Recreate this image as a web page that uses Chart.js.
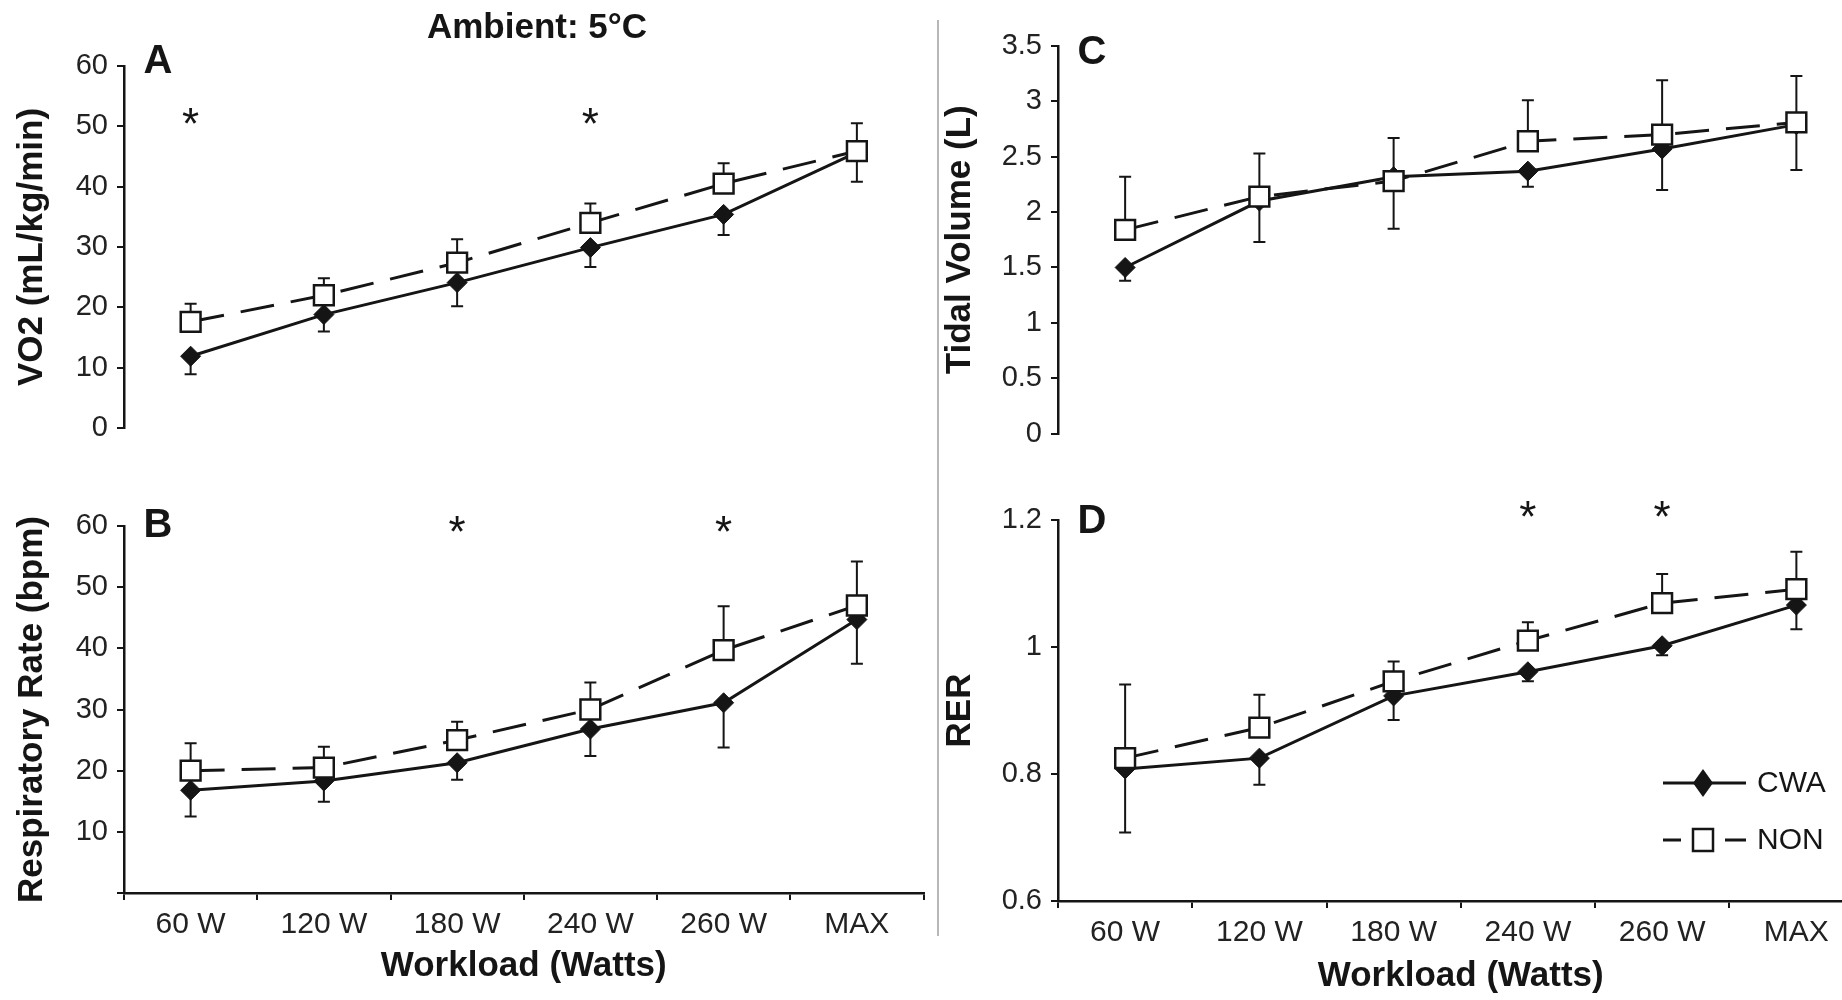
<!DOCTYPE html>
<html>
<head>
<meta charset="utf-8">
<title>Ambient 5°C – CWA vs NON</title>
<script src="https://cdn.jsdelivr.net/npm/chart.js@4.4.0/dist/chart.umd.min.js"></script>
<style>
  html, body { margin: 0; padding: 0; background: #fff; }
  #page { position: relative; width: 1842px; height: 1000px; overflow: hidden; background: #fff; }
  .panel { position: absolute; }
  #divider { position: absolute; left: 937px; top: 20px; width: 2px; height: 916px; background: #b8b8b8; }
</style>
</head>
<body>
<div id="page">
  <div class="panel" style="left:0;top:0;width:940px;height:460px"><canvas id="chart-a"></canvas></div>
  <div class="panel" style="left:0;top:460px;width:940px;height:540px"><canvas id="chart-b"></canvas></div>
  <div class="panel" style="left:940px;top:0;width:940px;height:460px"><canvas id="chart-c"></canvas></div>
  <div class="panel" style="left:940px;top:460px;width:940px;height:540px"><canvas id="chart-d"></canvas></div>
  <div id="divider"></div>
</div>
<script>
// Workload stages (x axis)
const workloads = ['60 W', '120 W', '180 W', '240 W', '260 W', 'MAX'];

// VO2 (mL/kg/min)
const vo2Cwa   = [11.9, 18.8, 24.1, 29.9, 35.4, 45.7];
const vo2CwaSd = [3.0, 2.8, 3.9, 3.2, 3.4, 4.9];
const vo2Non   = [17.6, 22.0, 27.4, 34.0, 40.5, 45.9];
const vo2NonSd = [3.0, 2.8, 3.9, 3.2, 3.4, 4.6];
const vo2Sig   = ['60 W', '240 W'];

// Respiratory rate (bpm)
const rrCwa   = [16.8, 18.3, 21.3, 26.8, 31.1, 44.7];
const rrCwaSd = [4.3, 3.4, 2.8, 4.4, 7.3, 7.2];
const rrNon   = [20.0, 20.5, 25.0, 30.0, 39.7, 47.0];
const rrNonSd = [4.5, 3.4, 3.0, 4.4, 7.2, 7.2];
const rrSig   = ['180 W', '260 W'];

// Tidal volume (L)
const tvCwa   = [1.50, 2.10, 2.32, 2.37, 2.57, 2.79];
const tvCwaSd = [0.12, 0.37, 0.47, 0.14, 0.37, 0.41];
const tvNon   = [1.84, 2.14, 2.28, 2.64, 2.70, 2.81];
const tvNonSd = [0.48, 0.39, 0.39, 0.37, 0.49, 0.42];
const tvSig   = [];

// Respiratory exchange ratio
const rerCwa   = [0.808, 0.825, 0.923, 0.961, 1.002, 1.066];
const rerCwaSd = [0.100, 0.042, 0.038, 0.015, 0.015, 0.038];
const rerNon   = [0.825, 0.873, 0.946, 1.010, 1.069, 1.091];
const rerNonSd = [0.116, 0.052, 0.031, 0.029, 0.046, 0.059];
const rerSig   = ['240 W', '260 W'];

const INK = '#151515';
const FONT = '"Liberation Sans", Arial, Helvetica, sans-serif';

// Error bars: CWA hangs below its point, NON rises above
const errorBars = {
    id: 'errorBars',
    beforeDatasetsDraw(chart) {
        const { ctx, scales: { x, y } } = chart;
        ctx.save();
        ctx.strokeStyle = INK;
        ctx.lineWidth = 2;
        chart.data.datasets.forEach(ds => {
            ds.data.forEach((v, i) => {
                const px = x.getPixelForValue(i);
                const y0 = y.getPixelForValue(v);
                const y1 = y.getPixelForValue(v + ds.errDir * ds.errors[i]);
                ctx.beginPath();
                ctx.moveTo(px, y0);
                ctx.lineTo(px, y1);
                ctx.moveTo(px - 6, y1);
                ctx.lineTo(px + 6, y1);
                ctx.stroke();
            });
        });
        ctx.restore();
    }
};

// Panel letter, significance stars, heading and legend
function panelMarks(p) {
    return {
        id: 'panelMarks',
        afterDatasetsDraw(chart) {
            const { ctx, chartArea, scales: { x, y } } = chart;
            ctx.save();
            ctx.fillStyle = INK;
            ctx.textAlign = 'center';
            ctx.textBaseline = 'middle';

            ctx.font = 'bold 40px ' + FONT;
            ctx.fillText(p.letter, chartArea.left + 34, p.letterY);

            if (p.heading) {
                ctx.font = 'bold 35px ' + FONT;
                ctx.fillText(p.heading, chartArea.left + 413, 28);
            }

            ctx.font = '44px ' + FONT;
            p.sig.forEach(cat => {
                const px = x.getPixelForValue(workloads.indexOf(cat));
                const py = y.getPixelForValue(p.starY);
                ctx.fillText('*', px, py + 10);
            });

            if (p.legend) {
                const lx = chartArea.left + 605;
                const rows = [323, 380];
                ctx.strokeStyle = INK;
                ctx.lineWidth = 3;
                // CWA: solid line with filled diamond
                ctx.beginPath();
                ctx.moveTo(lx, rows[0]);
                ctx.lineTo(lx + 83, rows[0]);
                ctx.stroke();
                ctx.beginPath();
                ctx.moveTo(lx + 40, rows[0] - 14);
                ctx.lineTo(lx + 50, rows[0]);
                ctx.lineTo(lx + 40, rows[0] + 14);
                ctx.lineTo(lx + 30, rows[0]);
                ctx.closePath();
                ctx.fill();
                // NON: dashed line with open square
                ctx.beginPath();
                ctx.moveTo(lx, rows[1]);
                ctx.lineTo(lx + 18, rows[1]);
                ctx.moveTo(lx + 62, rows[1]);
                ctx.lineTo(lx + 83, rows[1]);
                ctx.stroke();
                ctx.lineWidth = 2.5;
                ctx.fillStyle = '#fff';
                ctx.fillRect(lx + 30, rows[1] - 11, 20, 22);
                ctx.strokeRect(lx + 30, rows[1] - 11, 20, 22);
                ctx.fillStyle = INK;
                ctx.textAlign = 'left';
                ctx.font = '30px ' + FONT;
                ctx.fillText('CWA', lx + 94, rows[0] + 1);
                ctx.fillText('NON', lx + 94, rows[1] + 1);
            }
            ctx.restore();
        }
    };
}

function makePanel(id, p) {
    const yTitle = {
        display: true,
        text: p.yTitle,
        color: INK,
        font: { family: FONT, size: 35, weight: 'bold', lineHeight: 1 },
        padding: { top: p.yTitlePad, bottom: 0 }
    };
    const xScale = {
        type: 'category',
        offset: true,
        display: p.showX,
        grid: {
            offset: true,
            drawOnChartArea: false,
            drawTicks: true,
            tickLength: 7,
            color: INK,
            lineWidth: 2
        },
        border: { display: true, color: INK, width: 2.5 },
        ticks: {
            color: '#222',
            font: { family: FONT, size: 30 },
            padding: 7,
            maxRotation: 0,
            autoSkip: false
        },
        title: {
            display: p.showX,
            text: 'Workload (Watts)',
            color: INK,
            font: { family: FONT, size: 35, weight: 'bold', lineHeight: 1 },
            padding: { top: 0, bottom: p.xTitlePad }
        },
        afterFit(scale) { if (p.showX) scale.height = p.xHeight; }
    };
    return new Chart(document.getElementById(id), {
        type: 'line',
        data: {
            labels: workloads,
            datasets: [
                {
                    label: 'CWA',
                    data: p.cwa,
                    errors: p.cwaSd,
                    errDir: -1,
                    order: 1,
                    borderColor: INK,
                    borderWidth: 3,
                    pointStyle: 'rectRot',
                    pointRadius: 10,
                    pointBackgroundColor: INK,
                    pointBorderColor: INK,
                    pointBorderWidth: 1,
                    tension: 0,
                    fill: false
                },
                {
                    label: 'NON',
                    data: p.non,
                    errors: p.nonSd,
                    errDir: 1,
                    order: 0,
                    borderColor: INK,
                    borderWidth: 3,
                    borderDash: [34, 17],
                    pointStyle: 'rect',
                    pointRadius: 14,
                    pointBackgroundColor: '#fff',
                    pointBorderColor: INK,
                    pointBorderWidth: 2.5,
                    tension: 0,
                    fill: false
                }
            ]
        },
        options: {
            responsive: true,
            maintainAspectRatio: false,
            devicePixelRatio: 1,
            animation: false,
            layout: { padding: p.padding },
            scales: {
                x: xScale,
                y: {
                    min: p.yMin,
                    max: p.yMax,
                    grid: {
                        drawOnChartArea: false,
                        drawTicks: true,
                        tickLength: 7,
                        color: INK,
                        lineWidth: 2
                    },
                    border: { display: true, color: INK, width: 2.5 },
                    ticks: {
                        stepSize: p.yStep,
                        color: '#222',
                        font: { family: FONT, size: 29 },
                        padding: 9,
                        callback: v => (p.hideZero && v === 0) ? '' : String(+v.toFixed(2))
                    },
                    title: yTitle,
                    afterFit(scale) { scale.width = p.yWidth; }
                }
            },
            plugins: {
                legend: { display: false },
                tooltip: { enabled: false }
            }
        },
        plugins: [errorBars, panelMarks(p)]
    });
}

makePanel('chart-a', {
    cwa: vo2Cwa, cwaSd: vo2CwaSd, non: vo2Non, nonSd: vo2NonSd,
    sig: vo2Sig, starY: 51.6, letter: 'A', letterY: 62, heading: 'Ambient: 5°C',
    yTitle: 'VO2 (mL/kg/min)', yMin: 0, yMax: 60, yStep: 10,
    showX: false, yWidth: 124, yTitlePad: 15,
    padding: { top: 66, right: 8, bottom: 32, left: 0 }
});

makePanel('chart-b', {
    cwa: rrCwa, cwaSd: rrCwaSd, non: rrNon, nonSd: rrNonSd,
    sig: rrSig, starY: 60.2, letter: 'B', letterY: 66, hideZero: true,
    yTitle: 'Respiratory Rate (bpm)', yMin: 0, yMax: 60, yStep: 10,
    showX: true, xHeight: 107, xTitlePad: 16, yWidth: 124, yTitlePad: 15,
    padding: { top: 66, right: 8, bottom: 0, left: 0 }
});

makePanel('chart-c', {
    cwa: tvCwa, cwaSd: tvCwaSd, non: tvNon, nonSd: tvNonSd,
    sig: tvSig, starY: 3.5, letter: 'C', letterY: 53,
    yTitle: 'Tidal Volume (L)', yMin: 0, yMax: 3.5, yStep: 0.5,
    showX: false, yWidth: 118, yTitlePad: 3,
    padding: { top: 46, right: 15, bottom: 24, left: 0 }
});

makePanel('chart-d', {
    cwa: rerCwa, cwaSd: rerCwaSd, non: rerNon, nonSd: rerNonSd,
    sig: rerSig, starY: 1.216, letter: 'D', letterY: 62, legend: true,
    yTitle: 'RER', yMin: 0.6, yMax: 1.2, yStep: 0.2,
    showX: true, xHeight: 99, xTitlePad: 6, yWidth: 118, yTitlePad: 3,
    padding: { top: 60, right: 15, bottom: 0, left: 0 }
});
</script>
</body>
</html>
